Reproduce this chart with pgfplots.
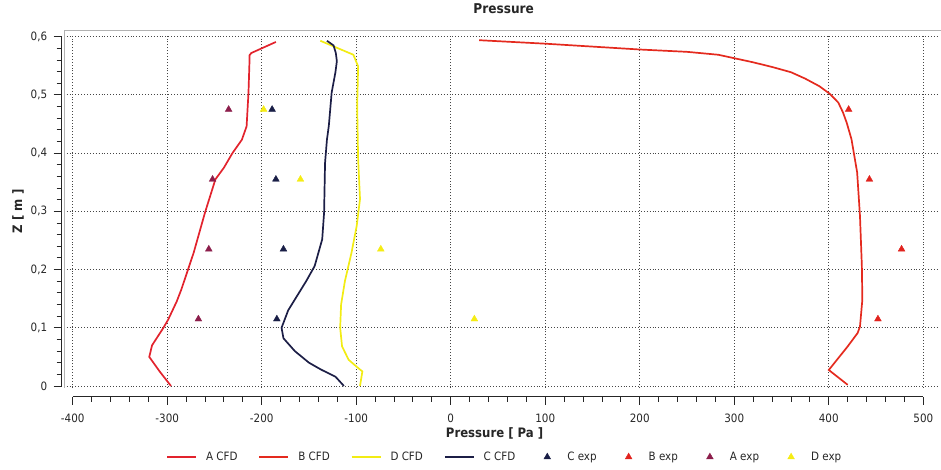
\documentclass[border=0pt]{standalone}
\usepackage{fontspec}
\setmainfont{DejaVu Sans Condensed}
\usepackage{pgfplots}
\pgfplotsset{compat=1.18}
\pgfplotsset{explegend/.style={legend image code/.code={\path[draw=none] (0pt,0pt) -- (22pt,0pt); \draw[##1] plot coordinates {(11pt,0pt)};}}}
\definecolor{acfd}{RGB}{226,35,45}
\definecolor{bcfd}{RGB}{228,42,30}
\definecolor{dcfd}{RGB}{242,236,20}
\definecolor{ccfd}{RGB}{28,30,70}
\definecolor{aexp}{RGB}{140,30,75}
\definecolor{cexp}{RGB}{25,30,70}
\definecolor{bexp}{RGB}{225,35,30}
\definecolor{dexp}{RGB}{245,236,20}
\definecolor{gridc}{RGB}{70,70,70}
\begin{document}
\begin{tikzpicture}
\path[use as bounding box] (-72.7pt,-84pt) rectangle (868.3pt,386pt);
% plot frame and grid
\draw[gray!60, line width=1pt] (-8pt,-2pt) -- (-8pt,355pt) -- (868.3pt,355pt);
\foreach \i in {0,...,9} \draw[gridc, line width=0.9pt, dash pattern=on 0.9pt off 2pt] (\i*94.511pt,-1.5pt) -- (\i*94.511pt,351pt);
\foreach \j in {0,...,6} \draw[gridc, line width=0.9pt, dash pattern=on 0.9pt off 2pt] (-6pt,\j*58.217pt) -- (866pt,\j*58.217pt);
\begin{axis}[
  scale only axis, width=850.6pt, height=349.3pt,
  xmin=-400, xmax=500, ymin=0, ymax=0.6,
  clip=false,
  axis x line=bottom, axis y line=left,
  axis line shift=11pt,
  axis line style={-, black!85, line width=1pt},
  xtick={-400,-300,-200,-100,0,100,200,300,400,500},
  ytick={0,0.1,0.2,0.3,0.4,0.5,0.6},
  minor x tick num=4, minor y tick num=4,
  tick align=outside,
  major tick length=8pt, minor tick length=5pt,
  tick style={black!85, line width=0.9pt},
  /pgf/number format/assume math mode=true,
  /pgf/number format/use comma,
  ticklabel style={font=\fontsize{11.5}{13}\selectfont, text=black!85},
  xticklabel style={yshift=-5pt},
  yticklabel style={xshift=-3pt},
  title={Pressure},
  title style={at={(axis description cs:0.5067,1.062)}, anchor=center, font=\bfseries\fontsize{13.5}{15}\selectfont, text=black!85},
  xlabel={Pressure [ Pa ]},
  xlabel style={at={(axis description cs:0.496,-0.1346)}, anchor=center, font=\bfseries\fontsize{13}{15}\selectfont, text=black!85},
  ylabel={Z [ m ]},
  ylabel style={at={(axis description cs:-0.0643,0.5)}, anchor=center, font=\bfseries\fontsize{13}{15}\selectfont, text=black!85},
  legend columns=8,
  legend style={at={(axis description cs:0.508,-0.2033)}, anchor=center, draw=none, fill=none,
    font=\fontsize{11.5}{13}\selectfont, text=black!85,
    /tikz/every odd column/.append style={column sep=7pt},
    /tikz/every even column/.append style={column sep=19pt}},
  legend image code/.code={\draw[#1] (0pt,0pt) -- (29pt,0pt);},
]
\addplot[acfd, line width=1.7pt] coordinates {
(-296,0) (-308,0.025) (-319,0.05) (-316,0.07) (-304,0.1) (-299,0.114) (-290,0.145) (-285,0.166) (-272,0.229) (-260,0.298) (-249,0.355) (-240,0.375) (-231,0.4) (-221,0.423) (-216,0.446) (-214,0.504) (-213,0.555) (-213,0.568) (-211,0.572) (-185,0.591)
};
\addlegendentry{A CFD}
\addplot[bcfd, line width=1.7pt] coordinates {
(420,0.002) (400,0.0275) (420,0.068) (430.5,0.091) (433,0.102) (435.5,0.148) (435,0.206) (433,0.292) (430,0.367) (424,0.424) (419,0.452) (415,0.47) (410,0.487) (401,0.502) (390,0.515) (375,0.528) (360,0.539) (340,0.548) (320,0.556) (303,0.562) (283,0.569) (250,0.574) (200,0.578) (100,0.588) (30,0.594)
};
\addlegendentry{B CFD}
\addplot[dcfd, line width=1.7pt] coordinates {
(-96,0) (-93.5,0.025) (-99.5,0.033) (-108,0.045) (-115,0.068) (-117,0.1) (-116,0.14) (-112,0.18) (-105,0.229) (-99.5,0.275) (-96,0.321) (-98,0.39) (-99,0.48) (-98,0.549) (-103,0.569) (-122,0.582) (-138,0.593)
};
\addlegendentry{D CFD}
\addplot[ccfd, line width=1.7pt] coordinates {
(-113,0) (-122,0.016) (-137,0.028) (-150,0.04) (-165,0.06) (-177,0.082) (-179,0.1) (-172,0.13) (-153,0.18) (-144,0.206) (-136,0.252) (-134,0.298) (-133,0.383) (-131,0.423) (-129,0.447) (-126,0.504) (-122,0.539) (-120.5,0.558) (-121.6,0.572) (-124,0.585) (-131,0.593)
};
\addlegendentry{C CFD}
\addplot[cexp, only marks, mark=triangle*, mark size=3.9pt, explegend] coordinates {
(-189,0.475) (-185,0.355) (-177,0.235) (-184,0.115)
};
\addlegendentry{C exp}
\addplot[bexp, only marks, mark=triangle*, mark size=3.9pt, explegend] coordinates {
(421,0.475) (443,0.355) (477,0.235) (452,0.115)
};
\addlegendentry{B exp}
\addplot[aexp, only marks, mark=triangle*, mark size=3.9pt, explegend] coordinates {
(-235,0.475) (-252,0.355) (-256,0.235) (-267,0.115)
};
\addlegendentry{A exp}
\addplot[dexp, only marks, mark=triangle*, mark size=3.9pt, explegend] coordinates {
(-198,0.475) (-159,0.355) (-74,0.235) (25,0.115)
};
\addlegendentry{D exp}
\end{axis}
\end{tikzpicture}
\end{document}
